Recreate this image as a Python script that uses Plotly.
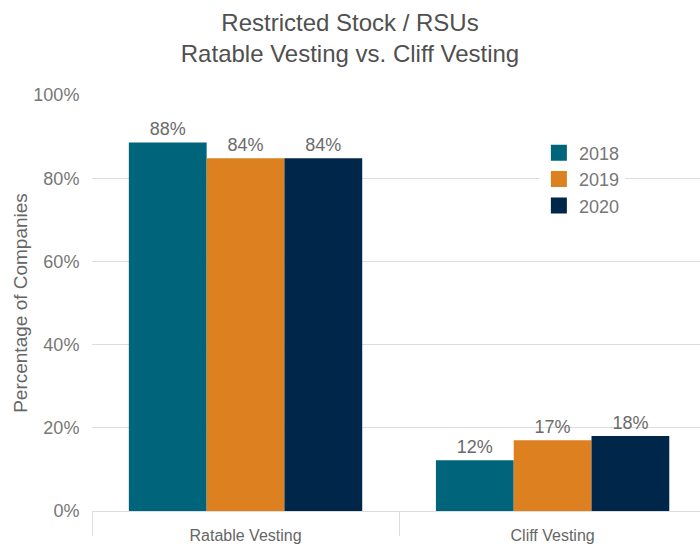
import plotly.graph_objects as go

categories = ["Ratable Vesting", "Cliff Vesting"]
years = ["2018", "2019", "2020"]
values_2018 = [88.6, 12.2]
values_2019 = [84.8, 17.0]
values_2020 = [84.8, 18.0]
labels_2018 = ["88%", "12%"]
labels_2019 = ["84%", "17%"]
labels_2020 = ["84%", "18%"]
colors = ["#00657B", "#DD8020", "#00264A"]

series = [values_2018, values_2019, values_2020]
labels = [labels_2018, labels_2019, labels_2020]

FONT = "Liberation Sans, Arial, sans-serif"

fig = go.Figure()
for yr, vals, lab, col in zip(years, series, labels, colors):
    fig.add_trace(go.Bar(
        x=categories, y=vals, name=yr, text=lab, textposition="outside",
        textfont=dict(size=18, color="#6b6b6b", family=FONT),
        marker=dict(color=col, line=dict(width=0)),
        cliponaxis=False, showlegend=False,
    ))
# legend entries (larger square swatches)
for yr, col in zip(years, colors):
    fig.add_trace(go.Scatter(
        x=[None], y=[None], name=yr, mode="markers",
        marker=dict(symbol="square", size=22, color=col),
        showlegend=True,
    ))

fig.update_layout(
    width=700, height=545,
    margin=dict(l=92, r=0, t=95, b=34),
    paper_bgcolor="white", plot_bgcolor="white",
    barmode="group", bargap=0.24, bargroupgap=0,
    font=dict(family=FONT, color="#6b6b6b"),
    title=dict(
        text="Restricted Stock / RSUs<br>Ratable Vesting vs. Cliff Vesting",
        x=0.5, xanchor="center", y=0.943, yanchor="top",
        font=dict(size=24, color="#505050", family=FONT),
    ),
    legend=dict(
        x=0.735, y=0.905, xanchor="left", yanchor="top",
        font=dict(size=18, color="#777777", family=FONT),
        bgcolor="rgba(255,255,255,1)", tracegroupgap=0,
        itemsizing="trace",
    ),
    showlegend=True,
)
fig.update_yaxes(
    range=[0, 100], dtick=20, ticksuffix="%",
    showgrid=True, gridcolor="#dddddd", gridwidth=1,
    zeroline=False, showline=False,
    ticks="outside", ticklen=8, tickcolor="rgba(0,0,0,0)",
    tickfont=dict(size=18, color="#777777", family=FONT),
    title=dict(text="Percentage of Companies", font=dict(size=19, color="#666666", family=FONT), standoff=0),
)
fig.update_xaxes(
    range=[-0.5, 1.48],
    showline=True, linecolor="#dddddd", linewidth=1,
    ticks="outside", tickson="boundaries", ticklen=24, tickcolor="#dddddd",
    ticklabelstandoff=10,
    tickfont=dict(size=16, color="#666666", family=FONT),
)

fig.write_html("out.html", config={"displayModeBar": False},
               post_script="document.body.style.margin='0';")
